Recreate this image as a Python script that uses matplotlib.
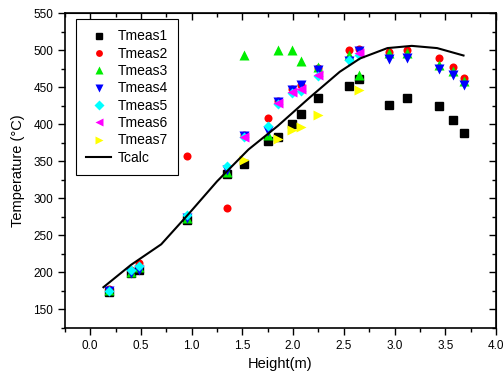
import matplotlib
matplotlib.use("Agg")
import matplotlib.pyplot as plt
from matplotlib.ticker import MultipleLocator

plt.rcParams['font.family'] = ['Liberation Sans', 'DejaVu Sans']

h_full = [0.18, 0.40, 0.48, 0.95, 1.35, 1.52, 1.75, 1.85, 1.99, 2.08, 2.25,
          2.55, 2.65, 2.95, 3.12, 3.44, 3.58, 3.68]
t1 = [173, 199, 203, 271, 333, 346, 377, 383, 400, 414, 435, 452, 461, 426, 436, 425, 406, 388]
t2 = [177, 203, 213, 357, 287, 385, 409, 432, 448, 453, 476, 500, 502, 498, 500, 489, 478, 463]
t3 = [176, 201, 207, 274, 336, 494, 386, 500, 500, 486, 477, 493, 466, 496, 496, 480, 472, 458]
t4 = [175, 199, 203, 273, 338, 384, 391, 430, 446, 453, 473, 485, 499, 488, 490, 475, 466, 453]
h5 = [0.18, 0.40, 0.48, 0.95, 1.35, 1.52, 1.75, 1.85, 1.99, 2.08, 2.25, 2.55, 2.65]
t5 = [175, 203, 208, 278, 344, 383, 398, 427, 443, 445, 465, 487, 494]
h6 = [1.52, 1.85, 1.99, 2.08, 2.25, 2.65]
t6 = [383, 429, 444, 448, 467, 496]
h7 = [1.52, 1.85, 1.99, 2.08, 2.25, 2.65]
t7 = [352, 380, 393, 397, 413, 447]
hc = [0.13, 0.40, 0.70, 0.97, 1.25, 1.56, 1.85, 2.17, 2.46, 2.66, 2.93, 3.17, 3.42, 3.68]
tc = [180, 210, 238, 279, 323, 366, 398, 437, 471, 489, 503, 506, 503, 493]

fig = plt.figure(figsize=(5.03, 3.80), dpi=100)
ax = fig.add_axes([0.129, 0.137, 0.857, 0.828])

ms = 5.5
ax.plot(h_full, t1, 's', color='black', ms=ms - 0.3, label='Tmeas1')
ax.plot(h_full, t2, 'o', color='red', ms=ms + 0.3, mec='none', label='Tmeas2')
ax.plot(h_full, t3, '^', color='#00ee00', ms=ms + 1.3, mec='none', label='Tmeas3')
ax.plot(h_full, t4, 'v', color='blue', ms=ms + 1.3, mec='none', label='Tmeas4')
ax.plot(h5, t5, 'D', color='cyan', ms=ms, mec='none', label='Tmeas5')
ax.plot(h6, t6, '<', color='magenta', ms=ms + 1.3, mec='none', label='Tmeas6')
ax.plot(h7, t7, '>', color='yellow', ms=ms + 1.3, mec='none', label='Tmeas7')
ax.plot(hc, tc, '-', color='black', lw=1.5, label='Tcalc')

ax.set_xlim(-0.25, 4.0)
ax.set_ylim(125, 550)
ax.xaxis.set_major_locator(MultipleLocator(0.5))
ax.xaxis.set_minor_locator(MultipleLocator(0.25))
ax.yaxis.set_major_locator(MultipleLocator(50))
ax.yaxis.set_minor_locator(MultipleLocator(25))
ax.set_yticks(range(150, 551, 50))
ax.set_xticks([0.0, 0.5, 1.0, 1.5, 2.0, 2.5, 3.0, 3.5, 4.0])
ax.set_xticklabels(['0.0', '0.5', '1.0', '1.5', '2.0', '2.5', '3.0', '3.5', '4.0'])

ax.tick_params(which='both', direction='out', top=False, right=False, labelsize=8.5, colors='black')
ax.tick_params(which='major', length=5, width=1)
ax.tick_params(which='minor', length=3, width=1)
for s in ax.spines.values():
    s.set_linewidth(1.2)

ax2 = ax.secondary_xaxis('top')
ax2.xaxis.set_major_locator(MultipleLocator(0.5))
ax2.xaxis.set_minor_locator(MultipleLocator(0.25))
ax2.tick_params(which='both', direction='in', labeltop=False)
ax2.tick_params(which='major', length=5, width=1)
ax2.tick_params(which='minor', length=3, width=1)
ax3 = ax.secondary_yaxis('right')
ax3.yaxis.set_major_locator(MultipleLocator(50))
ax3.yaxis.set_minor_locator(MultipleLocator(25))
ax3.tick_params(which='both', direction='in', labelright=False)
ax3.tick_params(which='major', length=5, width=1)
ax3.tick_params(which='minor', length=3, width=1)

ax.set_xlabel('Height(m)', fontsize=10.5, labelpad=4)
ax.set_ylabel('Temperature (°C)', fontsize=10.5, labelpad=6)

leg = ax.legend(loc='upper left', bbox_to_anchor=(0.025, 0.982), fontsize=10,
                frameon=True, fancybox=False, edgecolor='black', framealpha=1,
                handlelength=1.8, handletextpad=0.45, labelspacing=0.24,
                borderpad=0.75, borderaxespad=0.0, markerscale=0.85)
leg.get_frame().set_linewidth(0.8)

fig.savefig('out.png', dpi=100)
